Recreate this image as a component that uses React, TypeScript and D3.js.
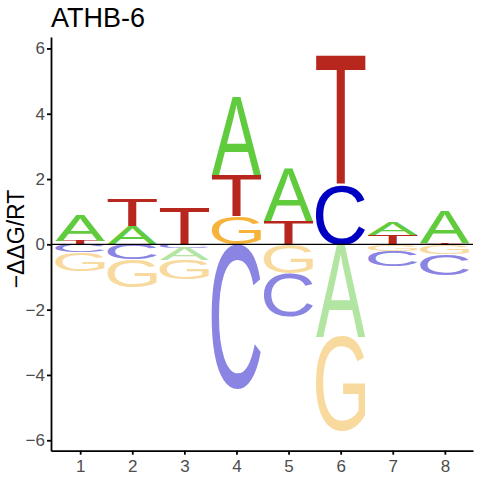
import { useRef, useEffect } from "react"
import * as d3 from "d3"

const title = "ATHB-6"
const positions = [1, 2, 3, 4, 5, 6, 7, 8]
const aValues = [0.8, 0.55, -0.37, 2.38, 1.6, -2.84, 0.38, 0.96]
const cValues = [-0.25, -0.47, -0.1, -4.42, -1.31, 1.8, -0.46, -0.66]
const gValues = [-0.58, -0.84, -0.59, 0.85, -0.9, -2.89, -0.2, -0.29]
const tValues = [0.1, 0.82, 1.12, 1.26, 0.73, 3.98, 0.29, 0.04]
const yTicks = [-6, -4, -2, 0, 2, 4, 6]

const posColors: Record<string, string> = { A: "#61CB3E", C: "#0000C2", G: "#F6B33A", T: "#B8271D" }
const negColors: Record<string, string> = { A: "#B3E5A2", C: "#8A84E2", G: "#F9DA9E", T: "#DE9490" }

const FONT = "'Liberation Sans', Arial, sans-serif"

function glyphBox(letter: string) {
  const ctx = document.createElement("canvas").getContext("2d")!
  ctx.font = `100px ${FONT}`
  const m = ctx.measureText(letter)
  return {
    left: m.actualBoundingBoxLeft,
    ascent: m.actualBoundingBoxAscent,
    w: m.actualBoundingBoxLeft + m.actualBoundingBoxRight,
    h: m.actualBoundingBoxAscent + m.actualBoundingBoxDescent,
  }
}

export default function App() {
  const svgRef = useRef<SVGSVGElement>(null)

  useEffect(() => {
    if (!svgRef.current) return
    const svg = d3.select(svgRef.current)
    svg.selectAll("*").remove()

    const x = d3.scaleLinear().domain([0.44, 8.54]).range([51, 473])
    const y = d3.scaleLinear().domain([-6.32, 6.35]).range([450.7, 37])
    const letterWidth = 0.95

    const series = [
      { letter: "A", values: aValues },
      { letter: "C", values: cValues },
      { letter: "G", values: gValues },
      { letter: "T", values: tValues },
    ]
    const boxes: Record<string, ReturnType<typeof glyphBox>> = {}
    series.forEach((s) => (boxes[s.letter] = glyphBox(s.letter)))

    const letters = svg.append("g")
    positions.forEach((p, i) => {
      const items = series.map((s) => ({ letter: s.letter, v: s.values[i] }))
      const pos = items.filter((d) => d.v > 0).sort((a, b) => a.v - b.v)
      const neg = items.filter((d) => d.v < 0).sort((a, b) => b.v - a.v)
      const x0 = x(p - letterWidth / 2)
      const w = x(p + letterWidth / 2) - x0

      const draw = (letter: string, from: number, to: number, color: string) => {
        const top = y(Math.max(from, to))
        const h = y(Math.min(from, to)) - top
        if (h < 0.3) return
        const b = boxes[letter]
        letters
          .append("text")
          .attr("x", 0)
          .attr("y", 0)
          .attr("font-family", FONT)
          .attr("font-size", 100)
          .attr("fill", color)
          .attr("transform", `translate(${x0},${top}) scale(${w / b.w},${h / b.h}) translate(${b.left},${b.ascent})`)
          .text(letter)
      }

      let acc = 0
      pos.forEach((d) => {
        draw(d.letter, acc, acc + d.v, posColors[d.letter])
        acc += d.v
      })
      acc = 0
      neg.forEach((d) => {
        draw(d.letter, acc, acc + d.v, negColors[d.letter])
        acc += d.v
      })
    })

    // zero line
    svg
      .append("line")
      .attr("x1", 51)
      .attr("x2", 473)
      .attr("y1", y(0))
      .attr("y2", y(0))
      .attr("stroke", "black")
      .attr("stroke-width", 1.1)

    // axes
    const yAxis = svg
      .append("g")
      .attr("transform", "translate(51,0)")
      .call(d3.axisLeft(y).tickValues(yTicks).tickSize(4).tickSizeOuter(0).tickPadding(2))
    const xAxis = svg
      .append("g")
      .attr("transform", "translate(0,450.7)")
      .call(d3.axisBottom(x).tickValues(positions).tickSize(4).tickSizeOuter(0).tickPadding(5))
    ;[yAxis, xAxis].forEach((g) => {
      g.select(".domain").attr("stroke", "black").attr("stroke-width", 1.8)
      g.selectAll(".tick line").attr("stroke", "black").attr("stroke-width", 1.8)
      g.selectAll(".tick text").attr("fill", "#4D4D4D").style("font-size", "17px").style("font-family", FONT)
    })

    svg
      .append("text")
      .attr("x", 51)
      .attr("y", 26.7)
      .style("font-family", FONT)
      .style("font-size", "27px")
      .attr("fill", "black")
      .text(title)

    svg
      .append("text")
      .attr("transform", "translate(24,239) rotate(-90)")
      .attr("text-anchor", "middle")
      .style("font-family", FONT)
      .style("font-size", "23px")
      .attr("fill", "black")
      .text("\u2212\u0394\u0394G/RT")
  }, [])

  return (
    <svg
      ref={svgRef}
      width={480}
      height={480}
      style={{ position: "absolute", left: 0, top: 0, background: "white" }}
    />
  )
}
